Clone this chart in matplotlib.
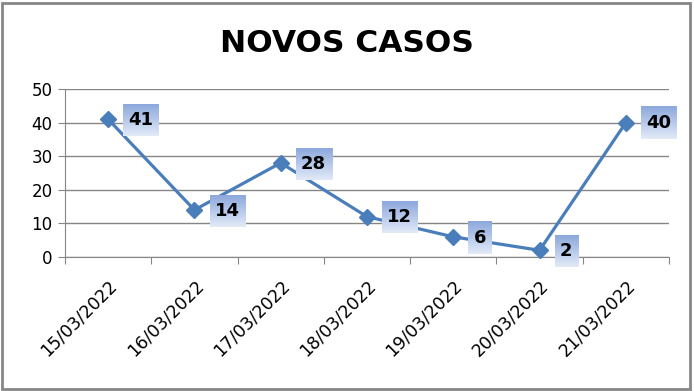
import matplotlib
matplotlib.use("Agg")
import matplotlib.pyplot as plt
import matplotlib.transforms as mtransforms
import numpy as np

# dados
datas = ["15/03/2022", "16/03/2022", "17/03/2022", "18/03/2022",
         "19/03/2022", "20/03/2022", "21/03/2022"]
casos = [41, 14, 28, 12, 6, 2, 40]

azul = "#4a7ebb"
cinza = "#868686"

plt.rcParams['font.family'] = ['DejaVu Sans']

fig = plt.figure(figsize=(6.94, 3.91), dpi=100)
ax = fig.add_axes([65/694, (391-257)/391, 604/694, 168/391])

x = np.arange(len(datas))
ax.plot(x, casos, color=azul, lw=2.3, marker='D', ms=8, zorder=3, clip_on=False)

ax.set_xlim(-0.5, len(datas) - 0.5)
ax.set_ylim(0, 50)
ax.set_yticks(range(0, 51, 10))
ax.set_xticks(np.arange(-0.5, len(datas), 1.0))
ax.set_xticklabels([])
ax.set_xticks(x, minor=True)
ax.set_xticklabels(datas, minor=True, rotation=45, ha='right', rotation_mode='anchor', fontsize=12.5)
desloc = mtransforms.ScaledTranslation(-6/100, 0, fig.dpi_scale_trans)
for lab in ax.get_xticklabels(minor=True):
    lab.set_transform(lab.get_transform() + desloc)
ax.tick_params(axis='x', which='minor', length=0, pad=14)
ax.tick_params(axis='x', which='major', length=5, color=cinza, direction='out')
ax.tick_params(axis='y', length=5, color=cinza, labelsize=12, pad=4)
ax.yaxis.grid(True, color=cinza, lw=1)
ax.set_axisbelow(True)
for s in ['top', 'right']:
    ax.spines[s].set_visible(False)
for s in ['left', 'bottom']:
    ax.spines[s].set_color(cinza)

fig.text(0.5, 1 - 44/391, "NOVOS CASOS", ha='center', va='center',
         fontsize=22.5, fontweight='bold')

# borda externa
fig.patches.append(plt.Rectangle((2/694, 2/391), 688/694, 386/391, transform=fig.transFigure,
                                 fill=False, edgecolor=cinza, lw=2))

# rótulos com fundo em degradê
ax.set_autoscale_on(False)
fig.canvas.draw()
r = fig.canvas.get_renderer()
grad = np.linspace(0, 1, 64)[:, None, None]
topo = np.array([140, 168, 220]) / 255
base = np.array([226, 234, 248]) / 255
img = topo * (1 - grad) + base * grad
inv = ax.transData.inverted()
for xi, v in zip(x, casos):
    t = ax.annotate(str(v), (xi, v), xytext=(14.5, -0.5), textcoords='offset points',
                    ha='left', va='center', fontsize=13, fontweight='bold', zorder=6,
                    annotation_clip=False)
    fig.canvas.draw()
    bb = t.get_window_extent(r)
    cy = (bb.y0 + bb.y1) / 2
    h = 32
    (x0, y0) = inv.transform((bb.x0 - 5, cy - h/2))
    (x1, y1) = inv.transform((bb.x1 + 6, cy + h/2))
    ax.imshow(img, extent=[x0, x1, y0, y1], aspect='auto', zorder=5,
              interpolation='bilinear', clip_on=False)

ax.set_xlim(-0.5, len(datas) - 0.5)
ax.set_ylim(0, 50)
fig.savefig("out.png", dpi=100)
